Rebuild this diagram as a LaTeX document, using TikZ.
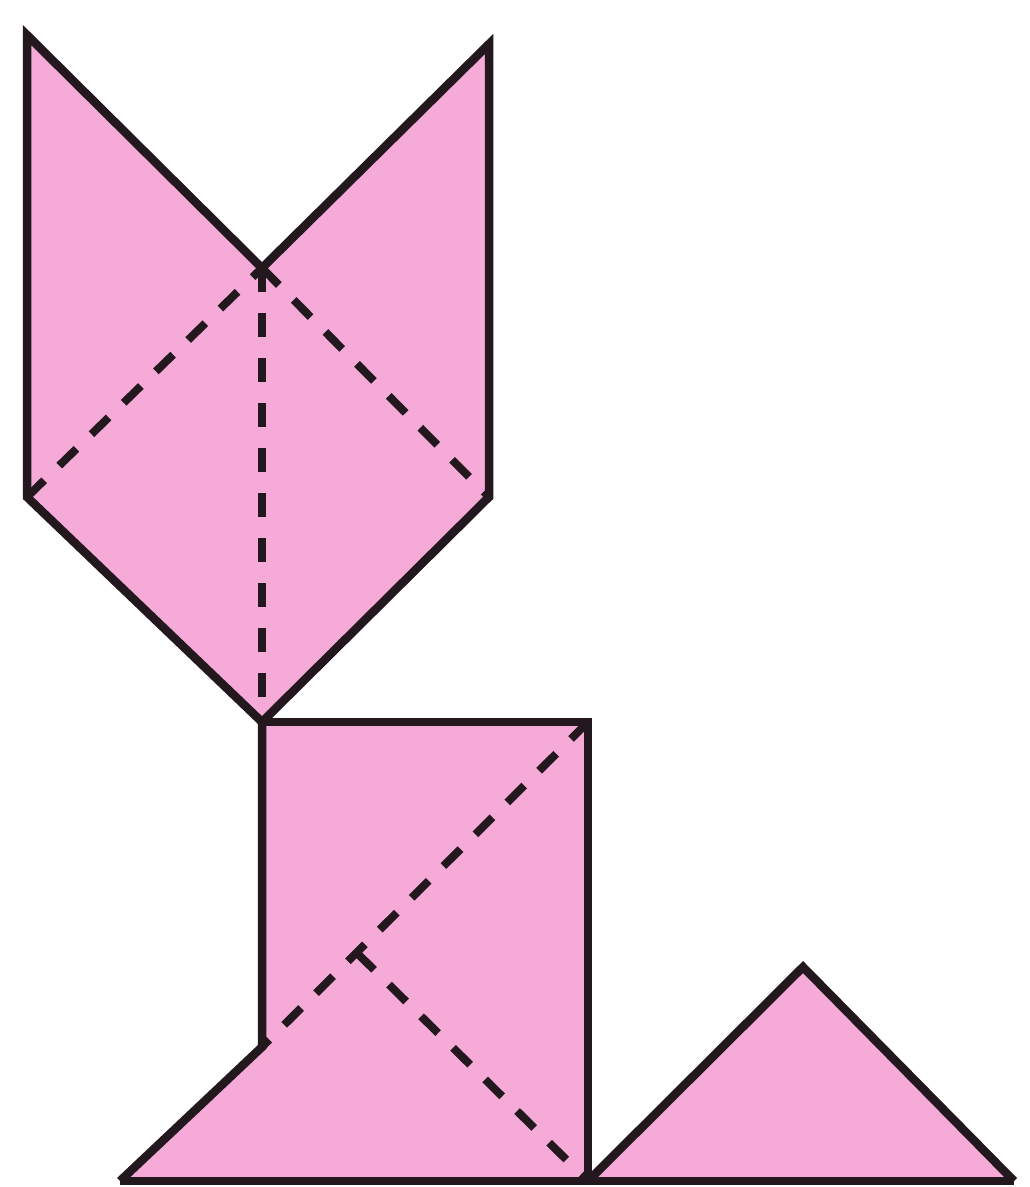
\documentclass[tikz,border=0pt]{standalone}
\definecolor{pk}{RGB}{245,170,216}
\definecolor{ink}{RGB}{35,24,30}
\begin{document}
\begin{tikzpicture}[x=1pt,y=-1pt,
  solidline/.style={line width=8.5pt, draw=ink, line join=miter},
  dashline/.style={line width=8pt, draw=ink, dash pattern=on 24pt off 21pt},
  piece/.style={fill=pk, draw=none}]
\useasboundingbox (0,0) rectangle (1029,1187);
\coordinate (A) at (27,35);
\coordinate (V) at (262,268);
\coordinate (B) at (489,44);
\coordinate (C) at (489,497);
\coordinate (D) at (262,722);
\coordinate (E) at (27,497);
\coordinate (F) at (588,722);
\coordinate (G) at (588,1181);
\coordinate (H) at (262,1047);
\coordinate (L) at (120,1181);
\coordinate (P) at (357,953);
\coordinate (Q) at (803,967);
\coordinate (R) at (1014,1181);
% fills
\path[piece] (A) -- (V) -- (B) -- (C) -- (D) -- (E) -- cycle;
\path[piece] (D) -- (F) -- (G) -- (L) -- (H) -- cycle;
\path[piece] (G) -- (Q) -- (R) -- cycle;
% dashed folds
\draw[dashline] (E) -- (V);
\draw[dashline] (V) -- (D);
\draw[dashline] (V) -- (C);
\draw[dashline] (F) -- (H);
\draw[dashline] (P) -- (G);
% outlines
\draw[solidline] (A) -- (V) -- (B) -- (C) -- (D) -- (E) -- cycle;
\draw[solidline] (D) -- (F) -- (G);
\draw[solidline] (D) -- (H) -- (L);
\draw[solidline] (L) -- (R);
\draw[solidline] (G) -- (Q) -- (R);
\end{tikzpicture}
\end{document}
